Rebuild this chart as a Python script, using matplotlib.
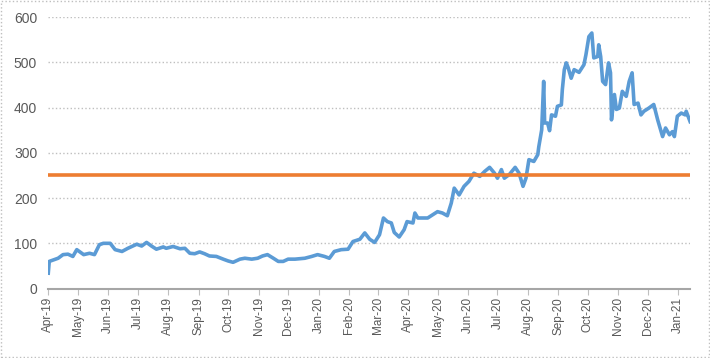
import matplotlib
matplotlib.use("Agg")
import matplotlib.pyplot as plt
import matplotlib.dates as mdates
import pandas as pd
from matplotlib.patches import Rectangle

# valeurs
dates = [
    "2019-04-01", "2019-04-02", "2019-04-06", "2019-04-11", "2019-04-16", "2019-04-21",
    "2019-04-26", "2019-04-30", "2019-05-07", "2019-05-13", "2019-05-18", "2019-05-23",
    "2019-05-27", "2019-06-03", "2019-06-08", "2019-06-15", "2019-06-21", "2019-06-30",
    "2019-07-05", "2019-07-10", "2019-07-15", "2019-07-20", "2019-07-27", "2019-07-30",
    "2019-08-06", "2019-08-13", "2019-08-18", "2019-08-23", "2019-08-28", "2019-09-02",
    "2019-09-07", "2019-09-12", "2019-09-19", "2019-09-26", "2019-10-01", "2019-10-06",
    "2019-10-13", "2019-10-18", "2019-10-25", "2019-10-31", "2019-11-05", "2019-11-10",
    "2019-11-16", "2019-11-21", "2019-11-26", "2019-12-01", "2019-12-08", "2019-12-18",
    "2019-12-25", "2019-12-31", "2020-01-07", "2020-01-12", "2020-01-17", "2020-01-24",
    "2020-01-31", "2020-02-05", "2020-02-12", "2020-02-17", "2020-02-22", "2020-02-27",
    "2020-03-03", "2020-03-07", "2020-03-11", "2020-03-15", "2020-03-18", "2020-03-23",
    "2020-03-28", "2020-03-31", "2020-04-06", "2020-04-08", "2020-04-11", "2020-04-21",
    "2020-04-26", "2020-05-01", "2020-05-06", "2020-05-11", "2020-05-15", "2020-05-18",
    "2020-05-23", "2020-05-28", "2020-06-02", "2020-06-07", "2020-06-13", "2020-06-18",
    "2020-06-23", "2020-06-28", "2020-07-01", "2020-07-05", "2020-07-08", "2020-07-13",
    "2020-07-19", "2020-07-23", "2020-07-27", "2020-07-30", "2020-08-02", "2020-08-07",
    "2020-08-11", "2020-08-12", "2020-08-15", "2020-08-17", "2020-08-18", "2020-08-21",
    "2020-08-23", "2020-08-25", "2020-08-29", "2020-08-31", "2020-09-04", "2020-09-05",
    "2020-09-07", "2020-09-09", "2020-09-11", "2020-09-14", "2020-09-17", "2020-09-22",
    "2020-09-27", "2020-09-29", "2020-10-02", "2020-10-05", "2020-10-07", "2020-10-11",
    "2020-10-12", "2020-10-14", "2020-10-16", "2020-10-19", "2020-10-22", "2020-10-24",
    "2020-10-25", "2020-10-28", "2020-10-30", "2020-11-02", "2020-11-05", "2020-11-09",
    "2020-11-12", "2020-11-15", "2020-11-17", "2020-11-21", "2020-11-24", "2020-11-27",
    "2020-12-02", "2020-12-07", "2020-12-11", "2020-12-14", "2020-12-16", "2020-12-19",
    "2020-12-23", "2020-12-26", "2020-12-28", "2020-12-31", "2021-01-04", "2021-01-08",
    "2021-01-09", "2021-01-13",
]
valeurs = [
    34, 60, 63, 67, 75, 76,
    71, 86, 75, 78, 75, 97,
    100, 100, 86, 82, 89, 98,
    94, 102, 94, 87, 92, 89,
    93, 88, 89, 78, 77, 81,
    77, 72, 71, 65, 61, 58,
    65, 67, 65, 67, 72, 75,
    67, 60, 60, 65, 65, 67,
    71, 75, 71, 67, 82, 86,
    87, 104, 109, 123, 109, 102,
    119, 156, 148, 145, 124, 114,
    130, 148, 145, 167, 156, 156,
    163, 170, 167, 161, 189, 222,
    207, 226, 237, 255, 248, 259,
    268, 255, 244, 263, 244, 252,
    268, 255, 226, 244, 285, 281,
    296, 313, 351, 458, 366, 366,
    349, 384, 381, 403, 406, 440,
    484, 499, 488, 465, 484, 478,
    495, 517, 557, 565, 510, 513,
    539, 513, 458, 451, 499, 477,
    373, 429, 396, 399, 436, 425,
    458, 477, 407, 410, 384, 392,
    399, 407, 373, 351, 336, 355,
    340, 347, 336, 381, 388, 384,
    392, 369,
]
seuil = 250

x = pd.to_datetime(dates)

plt.rcParams['font.family'] = ['Liberation Sans', 'DejaVu Sans']

fig = plt.figure(figsize=(7.1, 3.58), dpi=100)
ax = fig.add_axes([0.068, 0.194, 0.904, 0.758])

ax.plot(x, valeurs, color='#5B9BD5', lw=2.6, solid_joinstyle='round')
ax.axhline(seuil, color='#ED7D31', lw=2.6)

ax.set_ylim(0, 600)
ax.set_yticks(range(0, 601, 100))
ax.set_xlim(pd.Timestamp("2019-04-01"), pd.Timestamp("2021-01-13"))
ax.xaxis.set_major_locator(mdates.MonthLocator())
ax.xaxis.set_major_formatter(mdates.DateFormatter('%b-%y'))

ax.grid(axis='y', color='#BFBFBF', linestyle=':', lw=1)
ax.set_axisbelow(True)
for side in ['top', 'right', 'left']:
    ax.spines[side].set_visible(False)
ax.spines['bottom'].set_color('#A6A6A6')
ax.spines['bottom'].set_linewidth(1.5)

ax.tick_params(axis='y', length=0, labelsize=10, labelcolor='#595959', pad=8)
ax.tick_params(axis='x', length=4, color='#BFBFBF', labelsize=8.5,
               labelcolor='#595959', labelrotation=90, pad=2)

# cadre pointillé autour de la figure
fig.patches.append(Rectangle((0.002, 0.003), 0.996, 0.994, transform=fig.transFigure,
                             fill=False, edgecolor='#BFBFBF', linestyle=':', lw=1))

fig.savefig('out.png', dpi=100)
